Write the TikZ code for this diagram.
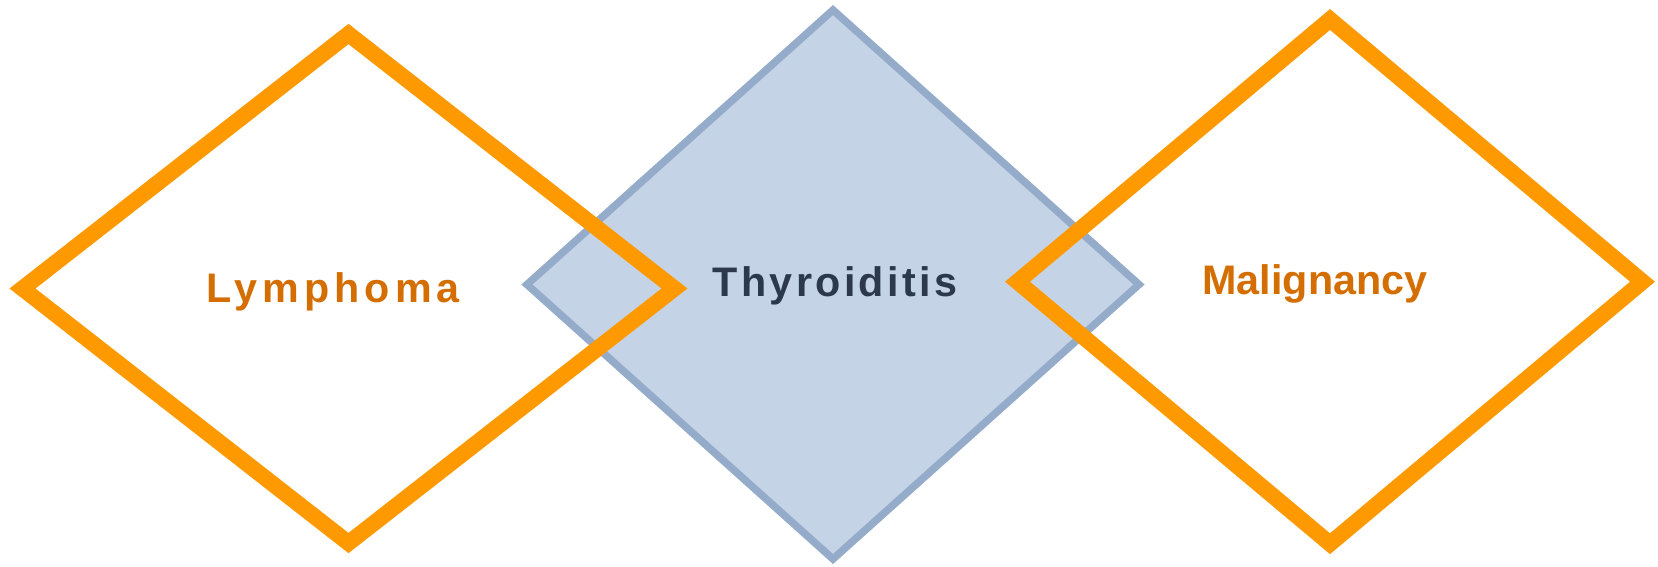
\documentclass[tikz,border=0pt]{standalone}
\usepackage{fontspec}
\setmainfont{Liberation Sans}
\usepackage{tikz}
\usetikzlibrary{positioning}
\definecolor{dxorange}{RGB}{255, 153, 0}
\definecolor{dxtext}{RGB}{212, 110, 0}
\definecolor{dxblue}{RGB}{197, 211, 230}
\definecolor{dxedge}{RGB}{148, 171, 201}
\definecolor{dxnavy}{RGB}{44, 56, 76}

\begin{document}
\begin{tikzpicture}[x=0.02cm, y=-0.02cm,
    every node/.style={font=\fontsize{23.5}{28}\selectfont\bfseries},
    sidebox/.style={line width=0.32cm, dxorange},
    midbox/.style={line width=0.15cm, draw=dxedge, fill=dxblue}]
    \useasboundingbox (0,0) rectangle (1658,566);

    % middle one first, the side ones lie on top of it
    \draw[midbox] (833,10) -- (1139,284.5) -- (833,559) -- (527,284.5) -- cycle;
    \draw[sidebox] (348.5,34) -- (674.5,288.5) -- (348.5,543) -- (22.5,288.5) -- cycle;
    \draw[sidebox] (1330,19.5) -- (1642.5,281.7) -- (1330,543.7) -- (1017.5,281.7) -- cycle;

    \node[dxtext, font=\fontsize{23.5}{28}\selectfont\bfseries\addfontfeature{LetterSpace=12}] (lymph) at (333,292) {Lymphoma};
    \node[dxnavy, font=\fontsize{23.5}{28}\selectfont\bfseries\addfontfeature{LetterSpace=8}] (thyro) at (835,286) {Thyroiditis};
    \node[dxtext] (malig) at (1315,284) {Malignancy};
\end{tikzpicture}
\end{document}
